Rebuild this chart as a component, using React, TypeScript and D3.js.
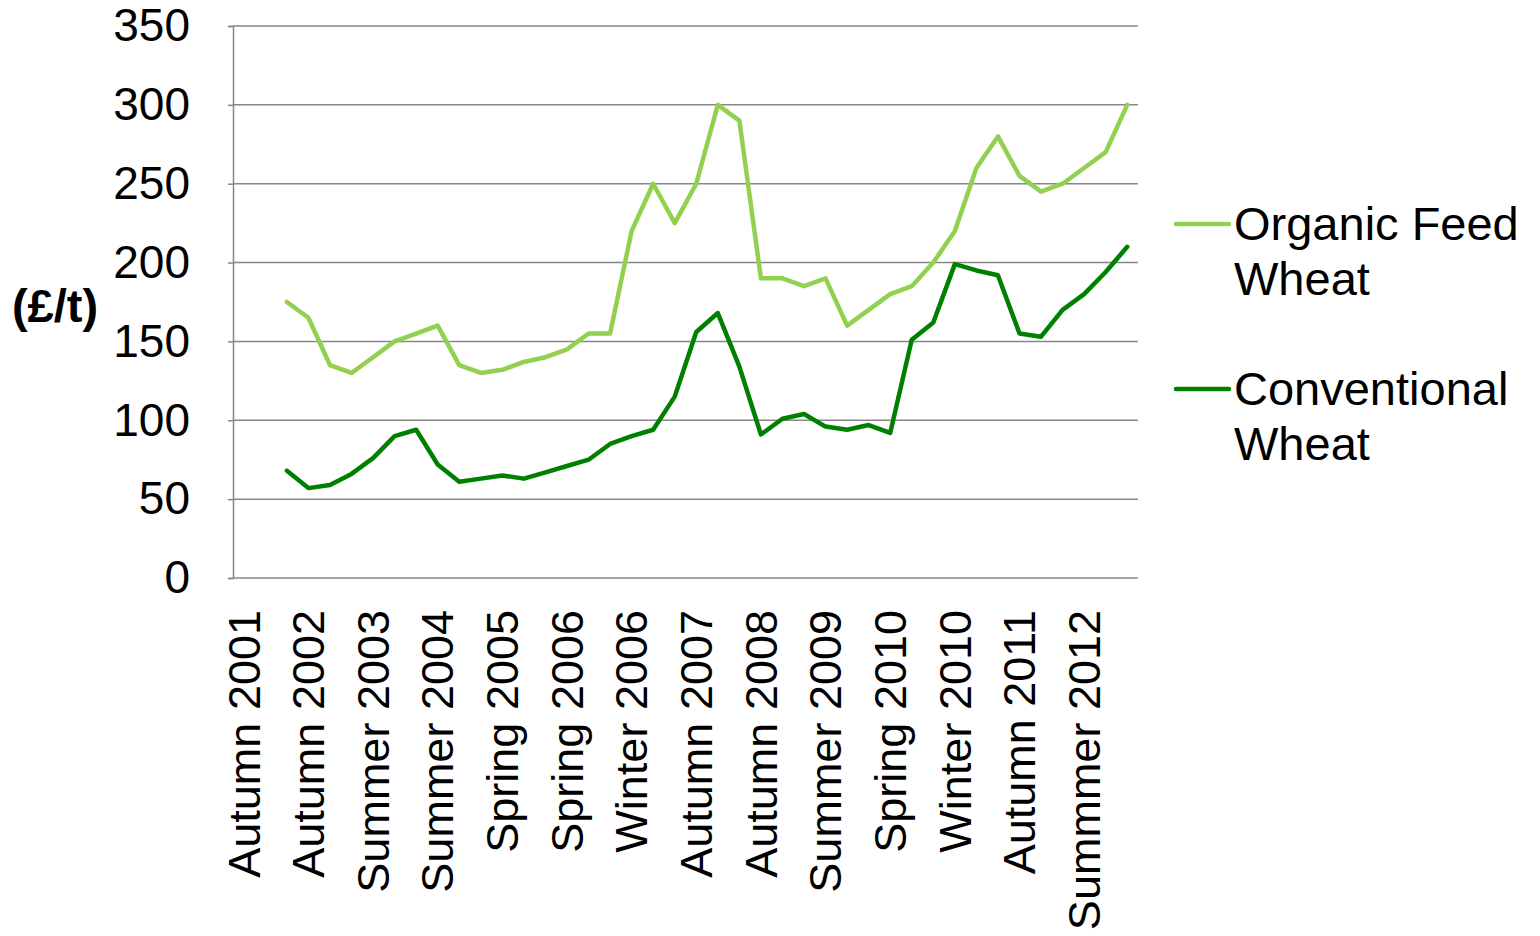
import React, { useEffect, useRef } from "react";
import * as d3 from "d3";

// seasonal price points, only every third label is shown on the axis
const categories = [
  "Autumn 2001", "Winter 2001", "Spring 2002", "Autumn 2002", "Winter 2002", "Spring 2003",
  "Summer 2003", "Autumn 2003", "Spring 2004", "Summer 2004", "Autumn 2004", "Winter 2004",
  "Spring 2005", "Summer 2005", "Autumn 2005", "Spring 2006", "Summer 2006", "Autumn 2006",
  "Winter 2006", "Spring 2007", "Summer 2007", "Autumn 2007", "Winter 2007", "Spring 2008",
  "Autumn 2008", "Winter 2008", "Spring 2009", "Summer 2009", "Autumn 2009", "Winter 2009",
  "Spring 2010", "Summer 2010", "Autumn 2010", "Winter 2010", "Spring 2011", "Summer 2011",
  "Autumn 2011", "Winter 2011", "Spring 2012", "Summmer 2012", "Autumn 2012", "Winter 2012",
];

const organicFeedWheat = [
  null, null, 175, 165, 135, 130, 140, 150, 155, 160, 135, 130, 132, 137, 140, 145, 155, 155,
  220, 250, 225, 250, 300, 290, 190, 190, 185, 190, 160, 170, 180, 185, 200, 220, 260, 280,
  255, 245, 250, 260, 270, 300,
];

const conventionalWheat = [
  null, null, 68, 57, 59, 66, 76, 90, 94, 72, 61, 63, 65, 63, 67, 71, 75, 85,
  90, 94, 115, 156, 168, 134, 91, 101, 104, 96, 94, 97, 92, 151, 162, 199, 195, 192,
  155, 153, 170, 180, 194, 210,
];

const yTicks = [0, 50, 100, 150, 200, 250, 300, 350];

const series = [
  { name: ["Organic Feed", "Wheat"], values: organicFeedWheat, color: "#92D050" },
  { name: ["Conventional", "Wheat"], values: conventionalWheat, color: "#008000" },
];

const App = () => {
  const ref = useRef<SVGSVGElement>(null);

  useEffect(() => {
    const svg = d3.select(ref.current);
    svg.selectAll("*").remove();

    const left = 233, right = 1138, top = 26, bottom = 578;
    const font = "'Liberation Sans', Arial, sans-serif";
    const gray = "#878787";

    const x = d3.scaleBand().domain(categories).range([left, right]);
    const y = d3.scaleLinear().domain([0, 350]).range([bottom, top]);

    // gridlines
    svg.append("g")
      .selectAll("line")
      .data(yTicks.filter((d) => d > 0))
      .enter()
      .append("line")
      .attr("x1", left)
      .attr("x2", right)
      .attr("y1", (d) => y(d))
      .attr("y2", (d) => y(d))
      .attr("stroke", gray)
      .attr("stroke-width", 1.5);

    // y axis
    const yAxis = svg.append("g")
      .attr("transform", "translate(" + left + ",0)")
      .call(d3.axisLeft(y).tickValues(yTicks).tickSize(5).tickPadding(38));
    yAxis.select(".domain").attr("stroke", gray).attr("stroke-width", 1.5);
    yAxis.selectAll(".tick line").attr("stroke", gray).attr("stroke-width", 1.5);
    yAxis.selectAll(".tick text")
      .attr("font-family", font)
      .attr("font-size", 46)
      .attr("fill", "#000");

    // x axis
    svg.append("line")
      .attr("x1", left)
      .attr("x2", right)
      .attr("y1", bottom)
      .attr("y2", bottom)
      .attr("stroke", gray)
      .attr("stroke-width", 1.5);

    svg.append("g")
      .selectAll("text")
      .data(categories.filter((_, i) => i % 3 === 0))
      .enter()
      .append("text")
      .attr("transform", (d) =>
        "translate(" + (x(d)! + x.bandwidth() / 2) + "," + 610 + ") rotate(-90)")
      .attr("dy", "0.35em")
      .attr("text-anchor", "end")
      .attr("font-family", font)
      .attr("font-size", 45)
      .text((d) => d);

    // axis title
    svg.append("text")
      .attr("x", 55)
      .attr("y", 306)
      .attr("dy", "0.35em")
      .attr("text-anchor", "middle")
      .attr("font-family", font)
      .attr("font-size", 47)
      .attr("font-weight", "bold")
      .text("(£/t)");

    // lines
    const line = d3.line<number | null>()
      .defined((d) => d !== null)
      .x((_, i) => x(categories[i])! + x.bandwidth() / 2)
      .y((d) => y(d as number));

    series.forEach((s) => {
      svg.append("path")
        .datum(s.values)
        .attr("d", line)
        .attr("fill", "none")
        .attr("stroke", s.color)
        .attr("stroke-width", 4.5)
        .attr("stroke-linejoin", "round")
        .attr("stroke-linecap", "round");
    });

    // legend
    const legendY = [224, 389];
    series.forEach((s, i) => {
      const g = svg.append("g").attr("transform", "translate(0," + legendY[i] + ")");
      g.append("line")
        .attr("x1", 1176)
        .attr("x2", 1229)
        .attr("stroke", s.color)
        .attr("stroke-width", 4.5)
        .attr("stroke-linecap", "round");
      s.name.forEach((t, j) => {
        g.append("text")
          .attr("x", 1234)
          .attr("y", 16 + j * 55)
          .attr("font-family", font)
          .attr("font-size", 47)
          .text(t);
      });
    });
  }, []);

  return (
    <svg
      ref={ref}
      width={1540}
      height={936}
      style={{ position: "absolute", left: 0, top: 0, background: "#fff" }}
    />
  );
};

export default App;
